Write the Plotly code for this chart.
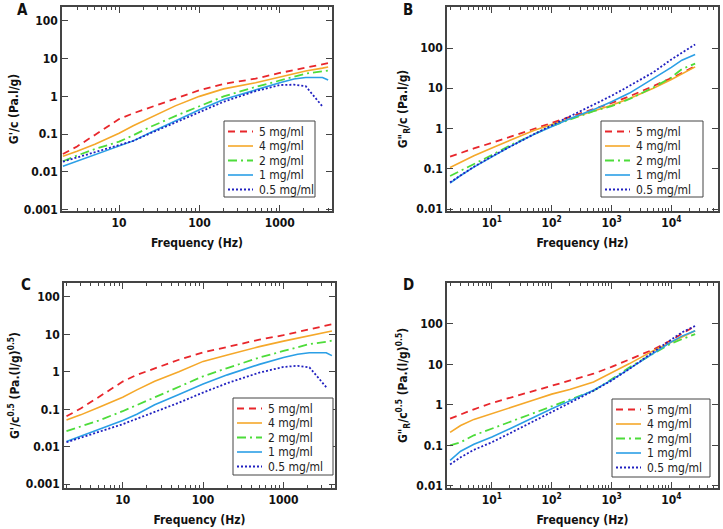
import plotly.graph_objects as go

# --- DATA ---
FREQ_AC = [2, 3, 5, 10, 15, 25, 50, 100, 200, 500, 1000, 1500, 2100, 3400, 4000]
FREQ_BD = [2, 3, 5, 10, 20, 50, 100, 200, 500, 1000, 2000, 5000, 10000, 15000, 25000]
CONC = ["5 mg/ml", "4 mg/ml", "2 mg/ml", "1 mg/ml", "0.5 mg/ml"]

# A: G'/c
A_5 = [0.0295, 0.047, 0.095, 0.25, 0.355, 0.525, 0.89, 1.45, 2.14, 2.95, 4.17, 5.0, 5.75, 6.9, 7.6]
A_4 = [0.026, 0.035, 0.054, 0.105, 0.166, 0.28, 0.56, 1.0, 1.58, 2.3, 3.3, 4.0, 4.7, 5.6, 6.0]
A_2 = [0.019, 0.027, 0.040, 0.063, 0.093, 0.158, 0.30, 0.56, 1.0, 1.78, 2.63, 3.3, 4.0, 4.6, 4.8]
A_1 = [0.014, 0.019, 0.0275, 0.048, 0.066, 0.112, 0.224, 0.44, 0.83, 1.5, 2.3, 2.9, 3.16, 3.16, 2.7]
A_05 = [0.0186, 0.024, 0.0316, 0.05, 0.066, 0.107, 0.2, 0.38, 0.72, 1.38, 2.0, 2.04, 1.86, 0.54, None]

# B: G''_R/c
B_5 = [0.2, 0.25, 0.32, 0.44, 0.62, 0.98, 1.38, 1.95, 2.95, 4.3, 6.3, 11.2, 17.8, 24, 35.5]
B_4 = [0.107, 0.145, 0.21, 0.33, 0.51, 0.89, 1.26, 1.74, 2.7, 3.8, 5.6, 10, 16.6, 22.4, 34]
B_2 = [0.066, 0.089, 0.126, 0.22, 0.38, 0.72, 1.15, 1.66, 2.7, 3.6, 5.4, 10.5, 18.6, 30, 41]
B_1 = [0.044, 0.068, 0.11, 0.2, 0.355, 0.71, 1.12, 1.74, 2.95, 4.6, 7.6, 17.4, 33, 50, 69]
B_05 = [0.046, 0.069, 0.112, 0.204, 0.355, 0.72, 1.2, 2.0, 3.8, 6.5, 11.5, 25, 52, 76, 123]

# C: G'/c^0.5
C_5 = [0.065, 0.105, 0.21, 0.55, 0.83, 1.23, 2.1, 3.3, 4.6, 7.2, 9.5, 11.5, 13.5, 17, 18.6]
C_4 = [0.052, 0.071, 0.112, 0.21, 0.33, 0.56, 1.0, 1.9, 2.8, 4.7, 6.6, 7.9, 9.3, 11.2, 12.3]
C_2 = [0.026, 0.035, 0.05, 0.089, 0.13, 0.21, 0.4, 0.76, 1.26, 2.4, 3.6, 4.6, 5.5, 6.3, 6.8]
C_1 = [0.0138, 0.019, 0.028, 0.05, 0.074, 0.132, 0.25, 0.47, 0.83, 1.58, 2.4, 2.95, 3.24, 3.24, 2.7]
C_05 = [0.0132, 0.0174, 0.024, 0.04, 0.056, 0.085, 0.15, 0.28, 0.5, 0.95, 1.35, 1.45, 1.32, 0.39, None]

# D: G''_R/c^0.5
D_5 = [0.46, 0.59, 0.78, 1.12, 1.51, 2.24, 2.9, 3.9, 5.9, 8.7, 13.2, 23.4, 40, 56, 89]
D_4 = [0.21, 0.31, 0.44, 0.62, 0.87, 1.32, 1.85, 2.4, 3.7, 6.2, 10.5, 21.9, 35, 47, 68]
D_2 = [0.1, 0.12, 0.178, 0.26, 0.38, 0.63, 0.89, 1.32, 2.24, 4.3, 8.5, 18.6, 33, 42, 56]
D_1 = [0.043, 0.072, 0.107, 0.162, 0.26, 0.5, 0.81, 1.26, 2.3, 4.1, 7.9, 19.5, 36, 50, 68]
D_05 = [0.034, 0.051, 0.078, 0.12, 0.2, 0.4, 0.68, 1.12, 2.24, 4.0, 7.8, 20.4, 42, 62, 89]

# tick labels
X_TICKS_AC = [10, 100, 1000]
X_TEXT_AC = ["10", "100", "1000"]
X_TICKS_BD = [10, 100, 1000, 10000]
X_TEXT_BD = ["10<sup>1</sup>", "10<sup>2</sup>", "10<sup>3</sup>", "10<sup>4</sup>"]
Y_TICKS_AC = [0.001, 0.01, 0.1, 1, 10, 100]
Y_TEXT_AC = ["0.001", "0.01", "0.1", "1", "10", "100"]
Y_TICKS_BD = [0.01, 0.1, 1, 10, 100]
Y_TEXT_BD = ["0.01", "0.1", "1", "10", "100"]

# --- STYLE ---
W, H = 723, 529
FONT = "DejaVu Sans Condensed"
FRAME = "#444444"
STYLES = [
    dict(color="#e8262b", dash="7px,5px", width=1.8),
    dict(color="#f5a82a", dash="solid", width=1.6),
    dict(color="#4ddc3a", dash="9px,4px,2px,4px", width=1.8),
    dict(color="#2b9fe6", dash="solid", width=1.6),
    dict(color="#2020c0", dash="2px,2px", width=1.8),
]

PANELS = [
    # name, freq, series, x range (log), y range (log), x domain, y domain, ticks, y title, legend box (px)
    ("A", FREQ_AC, [A_5, A_4, A_2, A_1, A_05], [0.29, 3.65], [-3.04, 2.37],
     [0.0858, 0.4592], [0.6011, 0.9868], "ac", "G'/c (Pa.l/g)", (224, 121, 315, 197)),
    ("B", FREQ_BD, [B_5, B_4, B_2, B_1, B_05], [0.25, 4.78], [-2.05, 3.02],
     [0.6183, 0.9931], [0.6011, 0.9868], "bd", 'G"<sub>R</sub>/c (Pa.l/g)', (601, 121, 703, 197)),
    ("C", FREQ_AC, [C_5, C_4, C_2, C_1, C_05], [0.27, 3.64], [-3.10, 2.37],
     [0.0885, 0.4633], [0.0775, 0.4650], "ac",
     "G'/c<sup>0.5</sup> (Pa.(l/g)<sup>0.5</sup>)", (233, 398, 333, 475)),
    ("D", FREQ_BD, [D_5, D_4, D_2, D_1, D_05], [0.25, 4.78], [-2.05, 3.01],
     [0.6183, 0.9931], [0.0775, 0.4650], "bd",
     'G"<sub>R</sub>/c<sup>0.5</sup> (Pa.(l/g)<sup>0.5</sup>)', (612, 399, 710, 477)),
]

LETTER_POS = {"A": (22, 10), "B": (408, 10), "C": (26, 285), "D": (408, 285)}


def minor_vals(lo, hi):
    vals = []
    for e in range(lo, hi):
        for m in range(2, 10):
            vals.append(m * 10 ** e)
    return vals


def px(x, y):
    return x / W, 1 - y / H


fig = go.Figure()
layout = dict(
    width=W, height=H, autosize=False,
    margin=dict(l=0, r=0, t=0, b=0),
    paper_bgcolor="white", plot_bgcolor="white",
    font=dict(family=FONT, size=12, color="#111111"),
    showlegend=False,
    annotations=[], shapes=[],
)

for i, (name, freq, series, xr, yr, xd, yd, kind, ytitle, box) in enumerate(PANELS):
    k = "" if i == 0 else str(i + 1)
    for s, label, st in zip(series, CONC, STYLES):
        fig.add_trace(go.Scatter(
            x=freq, y=s, name=label, mode="lines",
            line=dict(color=st["color"], dash=st["dash"], width=st["width"]),
            xaxis="x" + k, yaxis="y" + k, connectgaps=False,
        ))

    if kind == "ac":
        xt, xtxt, yt, ytxt = X_TICKS_AC, X_TEXT_AC, Y_TICKS_AC, Y_TEXT_AC
        mv = minor_vals(0, 4)
        ystand = 3
    else:
        xt, xtxt, yt, ytxt = X_TICKS_BD, X_TEXT_BD, Y_TICKS_BD, Y_TEXT_BD
        mv = minor_vals(0, 5)
        ystand = 6

    common = dict(
        type="log", showgrid=False, zeroline=False, automargin=False,
        showline=True, linecolor=FRAME, linewidth=1.5, mirror="ticks",
        ticks="inside", ticklen=6, tickwidth=1.3, tickcolor=FRAME,
        tickfont=dict(family=FONT, size=12, weight="bold", color="#111111"),
    )
    layout["xaxis" + k] = dict(
        common, domain=xd, range=xr, anchor="y" + k,
        tickmode="array", tickvals=xt, ticktext=xtxt,
        minor=dict(tickmode="array", tickvals=mv, ticks="inside", ticklen=3,
                   tickwidth=1, tickcolor=FRAME),
        title=dict(text="Frequency (Hz)", standoff=9,
                   font=dict(family=FONT, size=12, weight="bold")),
    )
    layout["yaxis" + k] = dict(
        common, domain=yd, range=yr, anchor="x" + k,
        tickmode="array", tickvals=yt, ticktext=ytxt,
        title=dict(text=ytitle, standoff=ystand,
                   font=dict(family=FONT, size=12, weight="bold")),
    )

    # legend box drawn per panel, entries 14.5 px apart
    x0, y0, x1, y1 = box
    a0, b0 = px(x0, y0)
    a1, b1 = px(x1, y1)
    layout["shapes"].append(dict(
        type="rect", xref="paper", yref="paper", x0=a0, x1=a1, y0=b1, y1=b0,
        line=dict(color=FRAME, width=1), fillcolor="white", layer="above",
    ))
    for j, (label, st) in enumerate(zip(CONC, STYLES)):
        yy = y0 + 10.5 + 14.5 * j
        la, lb = px(x0 + 4, yy)
        lc, _ = px(x0 + 29, yy)
        layout["shapes"].append(dict(
            type="line", xref="paper", yref="paper", x0=la, x1=lc, y0=lb, y1=lb,
            line=dict(color=st["color"], dash=st["dash"], width=st["width"]),
            layer="above",
        ))
        tx, ty = px(x0 + 33, yy)
        layout["annotations"].append(dict(
            text=label, x=tx, y=ty, xref="paper", yref="paper",
            xanchor="left", yanchor="middle", showarrow=False,
            font=dict(family=FONT, size=12, color="#222222"),
        ))

    lx, ly = LETTER_POS[name]
    ax, ay = px(lx, ly)
    layout["annotations"].append(dict(
        text="<b>%s</b>" % name, x=ax, y=ay, xanchor="center", yanchor="middle",
        xref="paper", yref="paper", showarrow=False,
        font=dict(family=FONT, size=15, color="#111111"),
    ))

fig.update_layout(**layout)
# page body margin would offset the figure by 8 px
fig.write_html("out.html", config={"displayModeBar": False},
               post_script="document.body.style.margin='0px';")
